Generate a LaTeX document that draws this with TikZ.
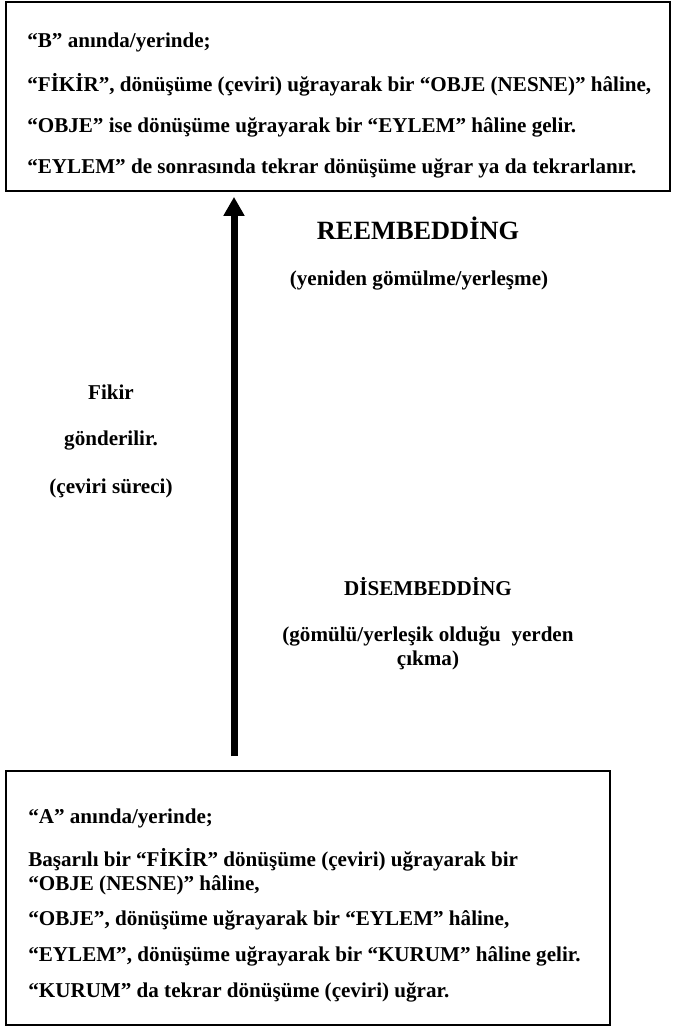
\documentclass[tikz,border=0pt]{standalone}
\usepackage{fontspec}
\setmainfont{Liberation Serif}
\usetikzlibrary{arrows.meta}

\begin{document}
\begin{tikzpicture}[x=1cm,y=1cm,font=\bfseries\fontsize{12}{13.6}\selectfont,
 panel/.style={draw=black,line width=1pt,fill=white,inner sep=0pt},
 line/.style={anchor=west,inner sep=0pt},
 note/.style={align=center,inner sep=0pt},
 head/.style={note,font=\bfseries\fontsize{15}{17}\selectfont},
 lift/.style={-{Triangle[width=4mm,length=3.8mm]},line width=.14cm,draw=black}]
\path[use as bounding box] (0,0) rectangle (13.5,20.54);
% Upper stage: moment / place B
\node[panel,minimum width=13.28cm,minimum height=3.78cm] (stageB) at (6.76,18.61) {};
\node[line] (b1) at (.54,19.70) {“B” anında/yerinde;};
\node[line] (b2) at (.54,18.84) {“FİKİR”, dönüşüme (çeviri) uğrayarak bir “OBJE (NESNE)” hâline,};
\node[line] (b3) at (.54,18.00) {“OBJE” ise dönüşüme uğrayarak bir “EYLEM” hâline gelir.};
\node[line] (b4) at (.54,17.18) {“EYLEM” de sonrasında tekrar dönüşüme uğrar ya da tekrarlanır.};

% Lower stage: moment / place A
\node[panel,minimum width=12.08cm,minimum height=5.08cm] (stageA) at (6.16,2.58) {};
\node[line] (a1) at (.56,4.18) {“A” anında/yerinde;};
\node[line,align=left] (a2) at (.56,3.10) {Başarılı bir “FİKİR” dönüşüme (çeviri) uğrayarak bir\\“OBJE (NESNE)” hâline,};
\node[line] (a3) at (.56,2.14) {“OBJE”, dönüşüme uğrayarak bir “EYLEM” hâline,};
\node[line] (a4) at (.56,1.42) {“EYLEM”, dönüşüme uğrayarak bir “KURUM” hâline gelir.};
\node[line] (a5) at (.56,.70) {“KURUM” da tekrar dönüşüme (çeviri) uğrar.};

% The idea travels upward from A to B
\coordinate (fork) at (4.68,10);
\draw[lift,shorten <=.28cm,shorten >=.1cm] (stageA.north -| fork) -- (stageB.south -| fork);

\node[head] (reemb) at (8.36,15.98) {REEMBEDDİNG};
\node[note] (reembsub) at (8.38,14.92) {(yeniden gömülme/yerleşme)};
\node[note] (sent1) at (2.22,12.70) {Fikir};
\node[note] (sent2) at (2.22,11.72) {gönderilir.};
\node[note] (sent3) at (2.22,10.78) {(çeviri süreci)};
\node[note] (disemb) at (8.56,8.80) {DİSEMBEDDİNG};
\node[note] (disembsub) at (8.56,7.57) {(gömülü/yerleşik olduğu\ \ yerden\\çıkma)};
\end{tikzpicture}
\end{document}
